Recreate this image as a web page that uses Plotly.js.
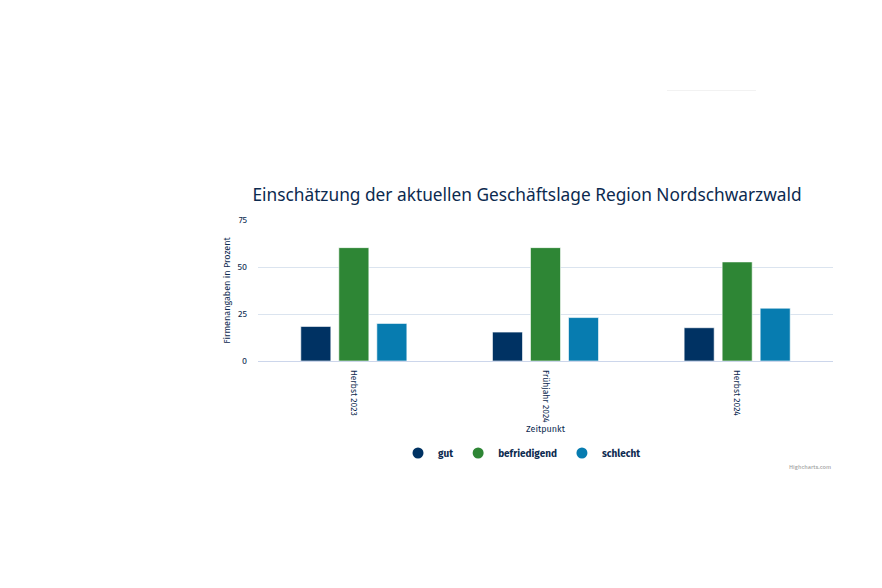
<!DOCTYPE html>
<html>
<head>
<meta charset="utf-8">
<script src="https://cdn.plot.ly/plotly-3.0.1.min.js"></script>
<style>html,body{margin:0;padding:0;background:#fff;}#chart{width:882px;height:588px;}</style>
</head>
<body>
<div id="chart"></div>
<script>
const categories = ["Herbst 2023", "Frühjahr 2024", "Herbst 2024"];
const seriesNames = ["gut", "befriedigend", "schlecht"];
const gut = [18.4, 15.4, 17.7];
const befriedigend = [60.3, 60.3, 52.7];
const schlecht = [20.0, 23.1, 28.1];
const yTicks = [0, 25, 50, 75];
const colors = ["#003263", "#2e8635", "#077cb0"];
const values = [gut, befriedigend, schlecht];

const FONT = "Fira Sans, 'Open Sans', 'Noto Sans', sans-serif";
const TXT = "#0c2a4f";

const traces = [];
values.forEach((v, i) => {
  traces.push({
    type: "bar", x: categories, y: v, name: seriesNames[i],
    marker: {color: colors[i], line: {color: "rgba(255,255,255,0.6)", width: 1}},
    showlegend: false, hoverinfo: "x+y"
  });
});
values.forEach((v, i) => {
  traces.push({
    type: "scatter", mode: "markers", x: [null], y: [null], name: seriesNames[i],
    marker: {color: colors[i], size: 11, symbol: "circle"}, showlegend: true
  });
});

const layout = {
  width: 882, height: 588,
  paper_bgcolor: "#ffffff", plot_bgcolor: "#ffffff",
  margin: {l: 258, r: 49, t: 220, b: 226.5, pad: 0},
  font: {family: FONT, color: TXT, size: 9},
  title: {
    text: "Einschätzung der aktuellen Geschäftslage Region Nordschwarzwald",
    font: {family: "'Noto Sans', sans-serif", size: 17.3, color: "#0c2a4f"},
    xref: "container", yref: "container", x: 527/882, xanchor: "center",
    y: 1 - 195/588, yanchor: "middle"
  },
  barmode: "group", bargap: 0.405, bargroupgap: 0.21,
  xaxis: {
    tickangle: 90, showgrid: false, zeroline: false,
    showline: false, ticks: "", ticklabelstandoff: 8,
    tickfont: {size: 8.6, color: TXT},
    title: {text: "Zeitpunkt", font: {size: 9, color: TXT}, standoff: 3},
    fixedrange: true
  },
  yaxis: {
    range: [0, 75], tickvals: yTicks, ticktext: yTicks.map(String),
    showgrid: true, gridcolor: "#dbe4ef", gridwidth: 1,
    zeroline: true, zerolinecolor: "#ccd6eb", zerolinewidth: 1,
    showline: false, ticks: "", ticklabelstandoff: 10,
    tickfont: {size: 9, color: TXT},
    title: {text: "Firmenangaben in Prozent", font: {size: 9, color: TXT}, standoff: 5},
    fixedrange: true
  },
  legend: {
    orientation: "h", xref: "container", yref: "container",
    x: 522/882, xanchor: "center", y: 1 - 453/588, yanchor: "middle",
    font: {size: 10, color: TXT, weight: 700}, itemwidth: 30, itemclick: false,
    tracegroupgap: 0, bgcolor: "rgba(0,0,0,0)"
  },
  shapes: [{
    type: "line", xref: "paper", yref: "paper",
    x0: (667-258)/575, x1: (756-258)/575,
    y0: (361.5-90)/141.5, y1: (361.5-90)/141.5,
    line: {color: "#f2f2f2", width: 1}
  }],
  annotations: [{
    text: "Highcharts.com", xref: "paper", yref: "paper",
    x: 1, xanchor: "right", y: (361.5-468)/141.5, yanchor: "middle",
    showarrow: false, font: {size: 6, color: "#999999"}
  }]
};

Plotly.newPlot("chart", traces, layout, {displayModeBar: false, responsive: false});
</script>
</body>
</html>
